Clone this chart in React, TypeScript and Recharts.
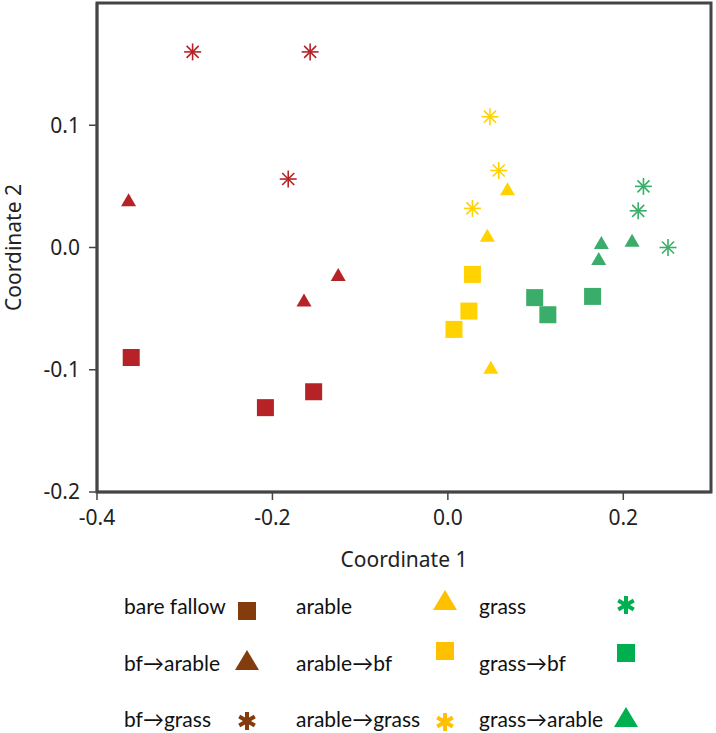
import React from 'react';
import { ReferenceArea, Scatter, ScatterChart, XAxis, YAxis } from 'recharts';

type Pt = { x: number; y: number };

// ordination scores
const bareFallow: Pt[] = [
  { x: -0.361, y: -0.09 },
  { x: -0.208, y: -0.131 },
  { x: -0.153, y: -0.118 },
];
const bfArable: Pt[] = [
  { x: -0.364, y: 0.039 },
  { x: -0.164, y: -0.043 },
  { x: -0.125, y: -0.022 },
];
const bfGrass: Pt[] = [
  { x: -0.291, y: 0.16 },
  { x: -0.157, y: 0.16 },
  { x: -0.182, y: 0.056 },
];
const arable: Pt[] = [
  { x: 0.068, y: 0.048 },
  { x: 0.045, y: 0.01 },
  { x: 0.049, y: -0.098 },
];
const arableBf: Pt[] = [
  { x: 0.028, y: -0.022 },
  { x: 0.024, y: -0.052 },
  { x: 0.007, y: -0.067 },
];
const arableGrass: Pt[] = [
  { x: 0.048, y: 0.107 },
  { x: 0.058, y: 0.063 },
  { x: 0.028, y: 0.032 },
];
const grass: Pt[] = [
  { x: 0.223, y: 0.05 },
  { x: 0.217, y: 0.03 },
  { x: 0.251, y: 0.0 },
];
const grassBf: Pt[] = [
  { x: 0.099, y: -0.041 },
  { x: 0.114, y: -0.055 },
  { x: 0.165, y: -0.04 },
];
const grassArable: Pt[] = [
  { x: 0.175, y: 0.004 },
  { x: 0.172, y: -0.009 },
  { x: 0.21, y: 0.006 },
];

const xTicks = [-0.4, -0.2, 0, 0.2];
const yTicks = [-0.2, -0.1, 0, 0.1];

const RED = '#b52327';
const YELLOW = '#ffd200';
const GREEN = '#3bad6a';

const LEG_BROWN = '#843c0c';
const LEG_GOLD = '#ffc000';
const LEG_GREEN = '#00b050';

type Marker = 'square' | 'triangle' | 'star';

const legendItems: { name: string; marker: Marker; color: string }[] = [
  { name: 'bare fallow', marker: 'square', color: LEG_BROWN },
  { name: 'arable', marker: 'triangle', color: LEG_GOLD },
  { name: 'grass', marker: 'star', color: LEG_GREEN },
  { name: 'bf\u2192arable', marker: 'triangle', color: LEG_BROWN },
  { name: 'arable\u2192bf', marker: 'square', color: LEG_GOLD },
  { name: 'grass\u2192bf', marker: 'square', color: LEG_GREEN },
  { name: 'bf\u2192grass', marker: 'star', color: LEG_BROWN },
  { name: 'arable\u2192grass', marker: 'star', color: LEG_GOLD },
  { name: 'grass\u2192arable', marker: 'triangle', color: LEG_GREEN },
];

const square = (color: string, s: number) => (p: any) => (
  <rect x={p.cx - s / 2} y={p.cy - s / 2} width={s} height={s} fill={color} />
);

const triangle = (color: string, w: number, h: number) => (p: any) => (
  <polygon
    points={`${p.cx - w / 2},${p.cy + h / 2} ${p.cx + w / 2},${p.cy + h / 2} ${p.cx},${p.cy - h / 2}`}
    fill={color}
  />
);

// thin 8-armed asterisk used in the plot
const asterisk = (color: string, r: number) => (p: any) => {
  const arms = [0, 45, 90, 135].map((a) => {
    const rad = (a * Math.PI) / 180;
    const dx = Math.cos(rad) * r;
    const dy = Math.sin(rad) * r;
    return (
      <line key={a} x1={p.cx - dx} y1={p.cy - dy} x2={p.cx + dx} y2={p.cy + dy} stroke={color} strokeWidth={1.6} />
    );
  });
  return <g>{arms}</g>;
};

// bold 6-armed asterisk used in the legend
function BoldStar({ cx, cy, color }: { cx: number; cy: number; color: string }) {
  return (
    <g>
      {[90, 30, 150].map((a) => {
        const rad = (a * Math.PI) / 180;
        const dx = Math.cos(rad) * 9;
        const dy = Math.sin(rad) * 9;
        return <line key={a} x1={cx - dx} y1={cy - dy} x2={cx + dx} y2={cy + dy} stroke={color} strokeWidth={4} />;
      })}
    </g>
  );
}

function LegendMarker({ marker, color, cx, cy }: { marker: Marker; color: string; cx: number; cy: number }) {
  if (marker === 'square') return <rect x={cx - 9} y={cy - 9} width={18} height={18} fill={color} />;
  if (marker === 'triangle')
    return <polygon points={`${cx - 12},${cy + 10} ${cx + 12},${cy + 10} ${cx},${cy - 10}`} fill={color} />;
  return <BoldStar cx={cx} cy={cy} color={color} />;
}

const colText = [124, 296, 479];
const colMarker = [247, 445, 626];
const rowText = [605, 662, 718];
// small vertical nudges of each legend symbol, as in the original figure
const markerDy = [6, -5, 0, -2, -11, -9, 3, 4, -1];

const tickFont = { fontFamily: 'Noto Sans', fontSize: 21, fill: '#222' };

export default function App() {
  return (
    <div style={{ position: 'absolute', left: 0, top: 0, width: 716, height: 733, background: '#fff' }}>
      <ScatterChart width={716} height={580} margin={{ top: 3, right: 5, bottom: 0, left: 0 }}>
        <XAxis
          type="number"
          dataKey="x"
          domain={[-0.4, 0.3]}
          ticks={xTicks}
          tickFormatter={(v: number) => v.toFixed(1)}
          height={88}
          tickSize={8}
          tickMargin={10}
          stroke="#444"
          axisLine={{ stroke: '#444', strokeWidth: 2.5 }}
          tickLine={{ stroke: '#444', strokeWidth: 1.5 }}
          tick={tickFont}
          allowDataOverflow
          label={{
            value: 'Coordinate 1',
            position: 'insideBottom',
            offset: 13,
            style: { fontFamily: 'Noto Sans', fontSize: 21, fill: '#222' },
          }}
        />
        <YAxis
          type="number"
          dataKey="y"
          domain={[-0.2, 0.2]}
          ticks={yTicks}
          tickFormatter={(v: number) => v.toFixed(1)}
          width={97}
          tickSize={8}
          tickMargin={9}
          stroke="#444"
          axisLine={{ stroke: '#444', strokeWidth: 2.5 }}
          tickLine={{ stroke: '#444', strokeWidth: 1.5 }}
          tick={tickFont}
          allowDataOverflow
          label={{
            value: 'Coordinate 2',
            angle: -90,
            position: 'insideLeft',
            offset: 14,
            style: { fontFamily: 'Noto Sans', fontSize: 21, fill: '#222', textAnchor: 'middle' },
          }}
        />
        <ReferenceArea
          x1={-0.4}
          x2={0.3}
          y1={-0.2}
          y2={0.2}
          fill="none"
          fillOpacity={0}
          stroke="#444"
          strokeOpacity={1}
          strokeWidth={3}
          ifOverflow="visible"
        />
        <Scatter name="bare fallow" data={bareFallow} shape={square(RED, 17)} isAnimationActive={false} />
        <Scatter name="bf→arable" data={bfArable} shape={triangle(RED, 15, 13)} isAnimationActive={false} />
        <Scatter name="bf→grass" data={bfGrass} shape={asterisk(RED, 8.5)} isAnimationActive={false} />
        <Scatter name="arable" data={arable} shape={triangle(YELLOW, 15, 13)} isAnimationActive={false} />
        <Scatter name="arable→bf" data={arableBf} shape={square(YELLOW, 17)} isAnimationActive={false} />
        <Scatter name="arable→grass" data={arableGrass} shape={asterisk(YELLOW, 8.5)} isAnimationActive={false} />
        <Scatter name="grass" data={grass} shape={asterisk(GREEN, 8.5)} isAnimationActive={false} />
        <Scatter name="grass→bf" data={grassBf} shape={square(GREEN, 17)} isAnimationActive={false} />
        <Scatter name="grass→arable" data={grassArable} shape={triangle(GREEN, 15, 13)} isAnimationActive={false} />
      </ScatterChart>
      <svg width={716} height={733} style={{ position: 'absolute', left: 0, top: 0, pointerEvents: 'none' }}>
        {legendItems.map((it, i) => {
          const row = Math.floor(i / 3);
          const col = i % 3;
          return (
            <g key={it.name}>
              <text
                x={colText[col]}
                y={rowText[row]}
                dominantBaseline="central"
                style={{ fontFamily: 'Lato', fontSize: 21, fill: '#111' }}
              >
                {it.name}
              </text>
              <LegendMarker marker={it.marker} color={it.color} cx={colMarker[col]} cy={rowText[row] + markerDy[i]} />
            </g>
          );
        })}
      </svg>
    </div>
  );
}
